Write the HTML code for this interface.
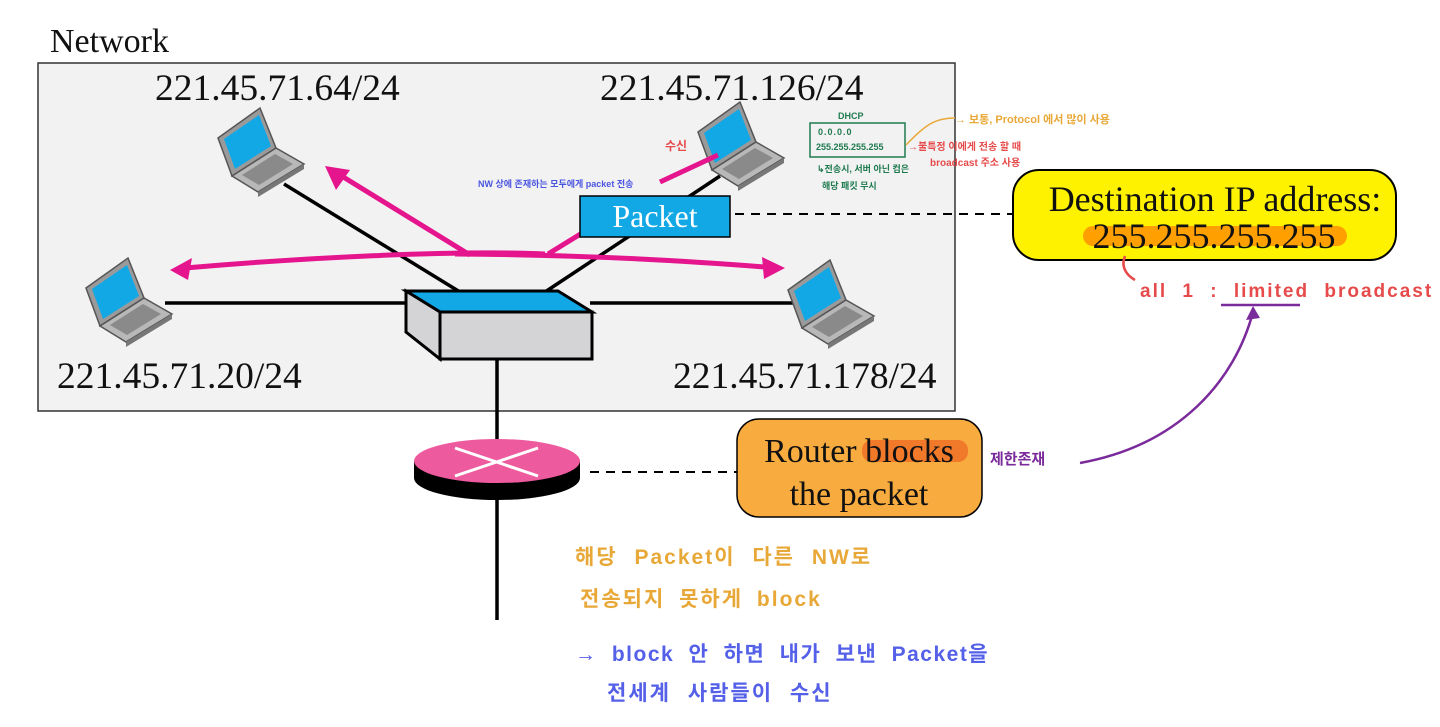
<!DOCTYPE html>
<html><head><meta charset="utf-8"><style>
html,body{margin:0;padding:0;background:#fff;width:1440px;height:727px;overflow:hidden}
svg{display:block}
.s{font-family:"Liberation Serif",serif;fill:#111}
.h{font-family:"Liberation Sans","Noto Sans CJK KR",sans-serif;font-weight:bold}
</style></head><body>
<svg width="1440" height="727" viewBox="0 0 1440 727" xmlns="http://www.w3.org/2000/svg">
<defs>
<g id="lap">
 <polygon points="0,32 42,2 58,42 14,70" fill="#9a9a9a" stroke="#555" stroke-width="1.5"/>
 <polygon points="6,33 41,9 53,40 17,63" fill="#12a8e6"/>
 <polygon points="14,70 58,42 86,58 40,86" fill="#b8b8b8" stroke="#555" stroke-width="1.5"/>
 <polygon points="40,86 86,58 86,63 40,91" fill="#777"/>
 <polygon points="24,69 57,48 75,58 41,79" fill="#8a8a8a"/>
</g>
</defs>
<text x="50" y="52" class="s" font-size="34">Network</text>
<rect x="38" y="63" width="917" height="348" fill="#f2f2f2" stroke="#333" stroke-width="1.5"/>
<text x="155" y="100" class="s" font-size="37.5">221.45.71.64/24</text>
<text x="600" y="100" class="s" font-size="37.5">221.45.71.126/24</text>
<text x="57" y="388" class="s" font-size="37.5">221.45.71.20/24</text>
<text x="673" y="388" class="s" font-size="37.5">221.45.71.178/24</text>
<g stroke="#000" stroke-width="3.5">
<line x1="284" y1="184" x2="460" y2="292"/>
<line x1="720" y1="176" x2="545" y2="292"/>
<line x1="165" y1="303" x2="410" y2="303"/>
<line x1="590" y1="303" x2="800" y2="303"/>
<line x1="497" y1="358" x2="497" y2="445"/>
<line x1="497" y1="495" x2="497" y2="620"/>
</g>
<use href="#lap" x="218" y="106"/>
<use href="#lap" x="698" y="100"/>
<use href="#lap" x="86" y="256"/>
<use href="#lap" x="788" y="258"/>
<polygon points="406,291 558,291 592,312 440,312" fill="#12a8e6" stroke="#000" stroke-width="3"/>
<polygon points="440,312 592,312 592,359 440,359" fill="#d4d4d6" stroke="#000" stroke-width="3"/>
<polygon points="406,291 440,312 440,359 406,332" fill="#d4d4d6" stroke="#000" stroke-width="3"/>
<g stroke="#e5158d" stroke-width="5" fill="none">
<path d="M545,254 C450,250 300,258 185,268"/>
<path d="M470,255 L340,175"/>
<path d="M455,254 C600,255 700,262 765,267"/>
<path d="M548,254 L600,222"/>
<path d="M660,182 L718,155"/>
</g>
<g fill="#e5158d">
<polygon points="170,270 192,258 188,280"/>
<polygon points="325,166 350,170 336,190"/>
<polygon points="785,268 762,257 764,279"/>
</g>
<rect x="580" y="196" width="150" height="41" fill="#12a8e6" stroke="#000" stroke-width="1.5"/>
<text x="655" y="227" class="s" font-size="32" style="fill:#fff" text-anchor="middle">Packet</text>
<line x1="735" y1="214" x2="1012" y2="214" stroke="#000" stroke-width="2" stroke-dasharray="9,7"/>
<rect x="1013" y="170" width="383" height="90" rx="26" fill="#fff200" stroke="#000" stroke-width="2"/>
<text x="1215" y="211" class="s" font-size="36" text-anchor="middle">Destination IP address:</text>
<rect x="1083" y="226" width="264" height="20" rx="10" fill="#ff9f00"/>
<text x="1214" y="248" class="s" font-size="36" text-anchor="middle">255.255.255.255</text>
<ellipse cx="497" cy="478" rx="83" ry="22" fill="#000"/>
<rect x="414" y="461" width="166" height="17" fill="#000"/>
<ellipse cx="497" cy="461" rx="83" ry="22" fill="#ee5a9e"/>
<g stroke="#fff" stroke-width="3"><line x1="455" y1="448" x2="538" y2="476"/><line x1="455" y1="476" x2="538" y2="448"/></g>
<line x1="590" y1="472" x2="737" y2="472" stroke="#000" stroke-width="2" stroke-dasharray="9,7"/>
<rect x="737" y="419" width="245" height="98" rx="22" fill="#f8ab3e" stroke="#000" stroke-width="1.5"/>
<rect x="862" y="440" width="106" height="22" rx="10" fill="#f0792a"/>
<text x="859" y="462" class="s" font-size="34" text-anchor="middle">Router blocks</text>
<text x="859" y="505" class="s" font-size="34" text-anchor="middle">the packet</text>
<text x="478" y="187" class="h" font-size="9" fill="#4a55e0">NW 상에 존재하는 모두에게 packet 전송</text>
<text x="665" y="150" class="h" font-size="12" fill="#e64a4a">수신</text>
<rect x="810" y="123" width="95" height="34" fill="none" stroke="#1f7a4f" stroke-width="1.5"/>
<text x="838" y="119" class="h" font-size="9" fill="#1f7a4f">DHCP</text>
<text x="818" y="135" class="h" font-size="9" fill="#1f7a4f" letter-spacing="1">0.0.0.0</text>
<text x="816" y="150" class="h" font-size="9" fill="#1f7a4f">255.255.255.255</text>
<text x="817" y="172" class="h" font-size="9" fill="#1f7a4f">↳전송시, 서버 아닌 컴은</text>
<text x="822" y="189" class="h" font-size="9" fill="#1f7a4f">해당 패킷 무시</text>
<text x="908" y="150" class="h" font-size="10" fill="#e64a4a">→불특정 이에게 전송 할 때</text>
<text x="930" y="166" class="h" font-size="10" fill="#e64a4a">broadcast 주소 사용</text>
<path d="M906,145 C925,125 935,118 955,118" stroke="#e8a838" stroke-width="1.5" fill="none"/>
<text x="955" y="123" class="h" font-size="11" fill="#e8a838">→ 보통, Protocol 에서 많이 사용</text>
<path d="M1125,256 C1120,268 1128,276 1135,280" stroke="#e64a4a" stroke-width="2.5" fill="none"/>
<text x="1140" y="297" class="h" font-size="19" fill="#e64a4a" letter-spacing="2" word-spacing="8">all 1 : limited broadcast</text>
<line x1="1221" y1="305" x2="1300" y2="305" stroke="#7a2a9a" stroke-width="2.5"/>
<path d="M1080,463 C1180,445 1235,380 1253,312" stroke="#7a2a9a" stroke-width="2.5" fill="none"/>
<polygon points="1253,306 1246,320 1260,318" fill="#7a2a9a"/>
<text x="990" y="464" class="h" font-size="15" fill="#7a2a9a">제한존재</text>
<text x="575" y="564" class="h" font-size="21" fill="#e8a838" letter-spacing="2" word-spacing="9">해당 Packet이 다른 NW로</text>
<text x="580" y="606" class="h" font-size="21" fill="#e8a838" letter-spacing="2" word-spacing="6">전송되지 못하게 block</text>
<text x="575" y="661" class="h" font-size="21" fill="#5560e8" letter-spacing="1.5" word-spacing="7">→ block 안 하면 내가 보낸 Packet을</text>
<text x="607" y="700" class="h" font-size="21" fill="#5560e8" letter-spacing="2" word-spacing="9">전세계 사람들이 수신</text>
</svg>
</body></html>
